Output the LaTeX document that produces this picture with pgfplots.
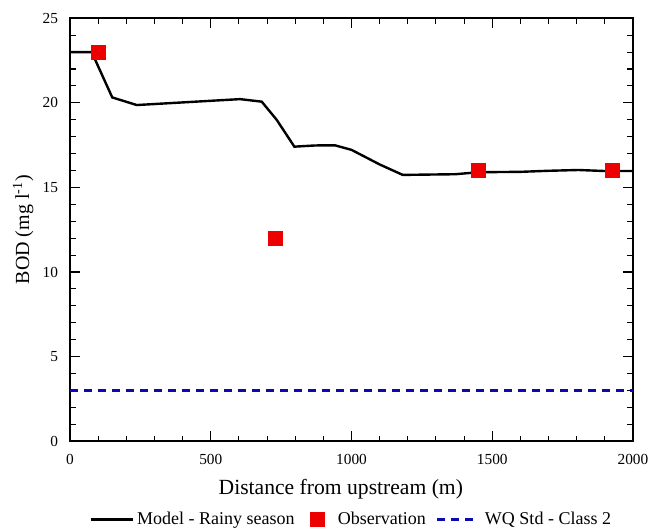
\documentclass[border=0pt]{standalone}
\usepackage{pgfplots}
\pgfplotsset{compat=1.18}
\usepackage{fontspec}
\setmainfont{Liberation Serif}
\definecolor{obsred}{RGB}{237,0,0}
\definecolor{stdblue}{RGB}{10,10,175}
\pgfplotsset{
    modelleg/.style={legend image code/.code={\draw[##1] (0pt,0pt) -- (32pt,0pt);}},
    obsleg/.style={legend image code/.code={\path (0pt,0pt) (22.5pt,0pt);
        \draw[##1] plot coordinates {(9pt,0pt)};}},
    stdleg/.style={legend image code/.code={\draw[##1] (-10pt,0pt) -- (17pt,0pt);}},
}

\begin{document}
\begin{tikzpicture}
\begin{axis}[
    scale only axis,
    width=422pt, height=317pt,
    xmin=0, xmax=2000, ymin=0, ymax=25,
    xtick={0,500,...,2000}, minor x tick num=4,
    ytick={0,5,...,25}, minor y tick num=4,
    tick align=inside,
    major tick length=7.5pt, minor tick length=4.2pt,
    tick style={black, line width=0.8pt},
    axis line style={line width=1.2pt},
    every tick label/.append style={font=\fontsize{11.5}{13}\selectfont},
    xticklabel style={yshift=-6.5pt},
    yticklabel style={xshift=-5.5pt},
    /pgf/number format/assume math mode=true,
    /pgf/number format/1000 sep={},
    xlabel={Distance from upstream (m)},
    ylabel={BOD (mg l\textsuperscript{-1})},
    xlabel style={font=\fontsize{16.2}{18}\selectfont, yshift=-4pt, xshift=-8pt},
    ylabel style={font=\fontsize{15}{17}\selectfont},
    legend style={draw=none, fill=none, at={(0.5,-0.155)}, anchor=north,
        legend columns=-1, font=\fontsize{13.5}{15}\selectfont,
        nodes={inner xsep=2pt},
        /tikz/every even column/.append style={column sep=5.5pt}},
    legend cell align=left,
]
\addplot[black, line width=1.8pt, modelleg] coordinates {
    (0,23) (77,23) (150,20.32) (237,19.87) (604,20.22) (681,20.07)
    (734,19.0) (797,17.41) (870,17.48) (941,17.49) (1000,17.22)
    (1101,16.35) (1182,15.74) (1368,15.78) (1453,15.9) (1599,15.92)
    (1693,15.98) (1806,16.03) (1900,15.97) (2000,15.97)
};
\addlegendentry{Model - Rainy season}
\addplot[only marks, mark=square*, mark size=5.25pt, color=obsred, obsleg] coordinates {
    (100,23) (730,12) (1450,16) (1927,16)
};
\addlegendentry{Observation}
\addplot[stdblue, line width=1.8pt, dash pattern=on 6pt off 4.5pt, stdleg] coordinates {
    (0,3) (2000,3)
};
\addlegendentry{\hspace{6pt}WQ Std - Class 2}
\coordinate (sw) at (rel axis cs:0,0);
\coordinate (ne) at (rel axis cs:1,1);
\end{axis}
\pgfresetboundingbox
\useasboundingbox ([shift={(-52.5pt,-66.5pt)}]sw) rectangle ([shift={(14.25pt,13.7pt)}]ne);
\end{tikzpicture}
\end{document}
